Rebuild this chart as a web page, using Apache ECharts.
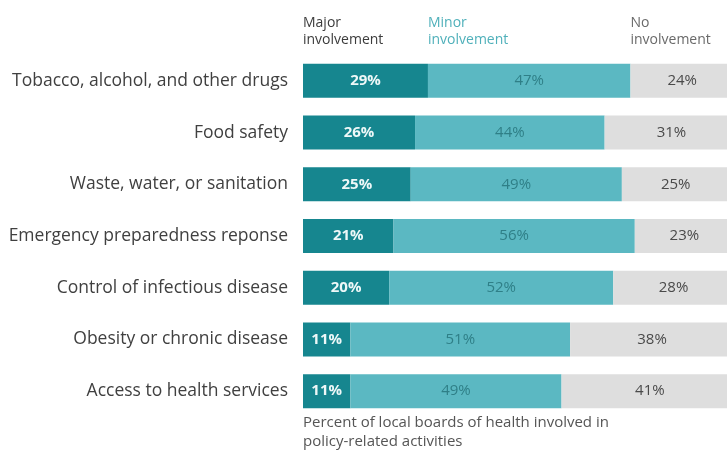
<!DOCTYPE html>
<html>
<head>
<meta charset="utf-8">
<script src="https://cdn.jsdelivr.net/npm/echarts@6/dist/echarts.min.js"></script>
<style>
  html, body { margin: 0; padding: 0; background: #ffffff; }
  #chart { width: 727px; height: 457px; }
</style>
</head>
<body>
<div id="chart"></div>
<script>
// Policy areas, top to bottom
const categories = [
  'Tobacco, alcohol, and other drugs',
  'Food safety',
  'Waste, water, or sanitation',
  'Emergency preparedness reponse',
  'Control of infectious disease',
  'Obesity or chronic disease',
  'Access to health services'
];

// Share of boards (%) by level of involvement
const majorValues = [29, 26, 25, 21, 20, 11, 11];
const minorValues = [47, 44, 49, 56, 52, 51, 49];
const noneValues  = [24, 31, 25, 23, 28, 38, 41];

const seriesNames = ['Major\ninvolvement', 'Minor\ninvolvement', 'No\ninvolvement'];
const footnote = 'Percent of local boards of health involved in\npolicy-related activities';

const FONT = '"Open Sans", Lato, sans-serif';
const colors = ['#16868f', '#5bb8c2', '#dedede'];
const labelColors = ['#eef8f8', '#2f7f87', '#4a4a4a'];
const headerColors = ['#3c3c3c', '#4fb0ba', '#6a6a6a'];

const chart = echarts.init(document.getElementById('chart'), null, { renderer: 'canvas' });

function makeSeries(name, data, i) {
  return {
    name: name,
    type: 'bar',
    stack: 'total',
    data: data,
    barWidth: 34,
    clip: false,
    itemStyle: { color: colors[i] },
    label: {
      show: true,
      position: 'inside',
      formatter: '{c}%',
      color: labelColors[i],
      fontFamily: FONT,
      fontSize: 15,
      fontWeight: i === 0 ? 'bold' : 'normal'
    },
    emphasis: { disabled: true },
    animation: false
  };
}

// The value scale runs past the right edge: the last segments are cut off by the page
chart.setOption({
  animation: false,
  grid: { left: 303, right: 0, top: 55, bottom: 40, containLabel: false },
  xAxis: {
    type: 'value', min: 0, max: 98.4,
    show: false
  },
  yAxis: {
    type: 'category',
    data: categories,
    inverse: true,
    axisLine: { show: false },
    axisTick: { show: false },
    axisLabel: {
      margin: 15,
      color: '#404040',
      fontFamily: FONT,
      fontSize: 17.5
    }
  },
  series: [
    makeSeries(seriesNames[0], majorValues, 0),
    makeSeries(seriesNames[1], minorValues, 1),
    makeSeries(seriesNames[2], noneValues, 2)
  ]
});

// Column headers sit above the start of each segment in the first row
const starts = [0, majorValues[0], majorValues[0] + minorValues[0]];
const headers = starts.map(function (v, i) {
  const px = chart.convertToPixel({ gridIndex: 0 }, [v, 0]);
  return {
    type: 'text',
    x: px[0],
    y: 15,
    style: {
      text: seriesNames[i],
      fill: headerColors[i],
      font: '14px ' + FONT,
      lineHeight: 17
    }
  };
});

const foot = chart.convertToPixel({ gridIndex: 0 }, [0, categories.length - 1]);
headers.push({
  type: 'text',
  x: foot[0],
  y: 413,
  style: {
    text: footnote,
    fill: '#555555',
    font: '15px ' + FONT,
    lineHeight: 19
  }
});

chart.setOption({ graphic: headers });
</script>
</body>
</html>
